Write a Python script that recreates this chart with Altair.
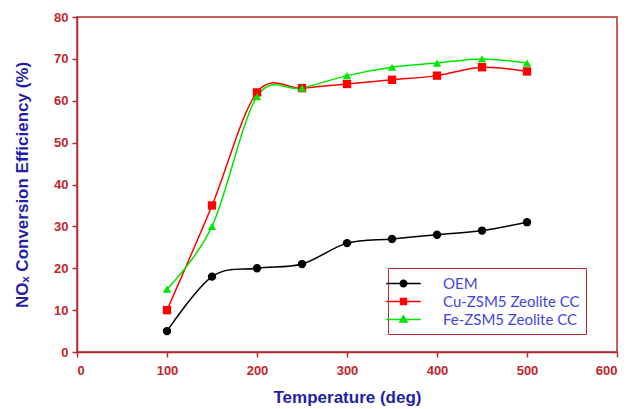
import altair as alt
import pandas as pd

temps = [100, 150, 200, 250, 300, 350, 400, 450, 500]
series_names = ["OEM", "Cu-ZSM5 Zeolite CC", "Fe-ZSM5 Zeolite CC"]
oem = [5, 18, 20, 21, 26, 27, 28, 29, 31]
cu = [10, 35, 62, 63, 64, 65, 66, 68, 67]
fe = [15, 30, 61, 63, 66, 68, 69, 70, 69]
colors = ["#000000", "#ff0000", "#00e600"]
shapes = ["circle", "square", "triangle-up"]
legend_paths = [
    "M-2,0H2M0.38,0A0.38,0.38,0,1,1,-0.38,0A0.38,0.38,0,1,1,0.38,0Z",
    "M-2,0H2M-0.34,-0.34H0.34V0.34H-0.34Z",
    "M-2,0H2M0,-0.42L0.42,0.3H-0.42Z",
]

rows = []
for name, vals in zip(series_names, [oem, cu, fe]):
    for t, v in zip(temps, vals):
        rows.append({"temp": t, "eff": v, "series": name})
df = pd.DataFrame(rows)

AX = "#b8282d"
LBL = "#c0262b"
TTL = "#1f1fa8"

x = alt.X("temp:Q", scale=alt.Scale(domain=[0, 600], nice=False),
          axis=alt.Axis(values=[0, 100, 200, 300, 400, 500, 600],
                        title="Temperature (deg)", grid=False))
y = alt.Y("eff:Q", scale=alt.Scale(domain=[0, 80], nice=False),
          axis=alt.Axis(values=[0, 10, 20, 30, 40, 50, 60, 70, 80],
                        title="NOₓ Conversion Efficiency (%)", grid=False))
color = alt.Color("series:N", scale=alt.Scale(domain=series_names, range=colors), legend=None)

lines = alt.Chart(df).mark_line(interpolate="cardinal", strokeWidth=1.5).encode(
    x=x, y=y, color=color, detail="series:N")

points = alt.Chart(df).mark_point(filled=True, size=70, opacity=1).encode(
    x=x, y=y, color=color,
    shape=alt.Shape("series:N", scale=alt.Scale(domain=series_names, range=shapes), legend=None))

leg = alt.Legend(
    title=None, orient="none", legendX=311, legendY=251,
    padding=6, strokeColor=AX, fillColor="white",
    symbolSize=300, symbolStrokeWidth=1.5, symbolOpacity=1,
    labelFont="Lato", labelFontSize=15, labelColor="#4545dd",
    labelOffset=30, rowPadding=0, symbolOffset=0,
)

legend_layer = alt.Chart(df).transform_filter("false").mark_point(opacity=1, strokeWidth=1.5).encode(
    x=x, y=y,
    fill=alt.Fill("series:N", scale=alt.Scale(domain=series_names, range=colors), legend=leg),
    stroke=alt.Stroke("series:N", scale=alt.Scale(domain=series_names, range=colors), legend=leg),
    shape=alt.Shape("series:N", scale=alt.Scale(domain=series_names, range=legend_paths), legend=leg))

chart = alt.layer(lines, points, legend_layer).resolve_scale(
    shape="independent", fill="independent", stroke="independent").properties(
    width=540, height=335,
    autosize=alt.AutoSizeParams(type="none"),
    padding={"left": 69, "top": 9, "right": 5, "bottom": 54},
).configure_view(stroke=AX, strokeWidth=1.5).configure_axis(
    domainColor=AX, domainWidth=1.5, tickColor=AX, tickWidth=1.5, tickSize=5,
    labelColor=LBL, labelFont="Liberation Sans", labelFontWeight="bold", labelFontSize=13,
    titleColor=TTL, titleFont="Liberation Sans", titleFontWeight="bold",
).configure_axisX(titlePadding=12, labelPadding=7, titleFontSize=17).configure_axisY(
    titlePadding=22, labelPadding=4, titleFontSize=17)

chart.save("out.html", embed_options={"renderer": "svg", "actions": False})
